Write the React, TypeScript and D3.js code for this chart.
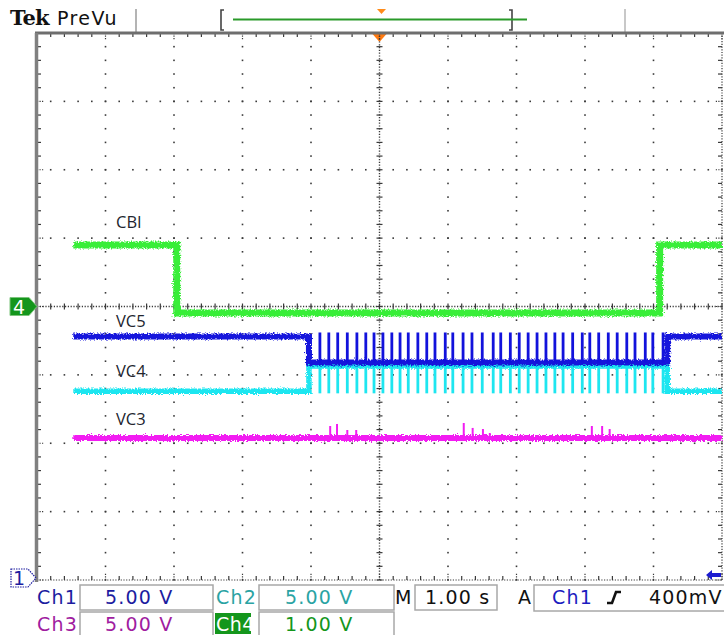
import React from 'react';
import * as d3 from 'd3';

const W = 724;
const H = 635;

// screen graticule: 10 x 8 divisions
const gridLeft = 37, gridRight = 722, gridTop = 33, gridBottom = 580;
const timeDomain = [-5, 5]; // 1.00 s/div, trigger in the centre
const divDomain = [-4, 4];

// channel settings: volts per division and ground position (div)
const ch1Scale = 5.0, ch1Ground = -4;
const ch2Scale = 5.0, ch2Ground = -4;
const ch3Scale = 5.0, ch3Ground = -4;
const ch4Scale = 1.0, ch4Ground = 0;

// CBI (Ch4)
const cbiTimes = [-4.47, -2.96, -2.96, 4.09, 4.09, 5.0];
const cbiVolts = [0.9, 0.9, -0.095, -0.095, 0.9, 0.9];
// VC5 (Ch1)
const vc5Times = [-4.47, -1.03, -1.03, 4.2, 4.2, 5.0];
const vc5Volts = [17.8, 17.8, 15.9, 15.9, 17.8, 17.8];
// VC4 (Ch2)
const vc4Times = [-4.47, -1.03, -1.03, 4.2, 4.2, 5.0];
const vc4Volts = [13.8, 13.8, 15.65, 15.65, 13.8, 13.8];
// VC3 (Ch3)
const vc3Times = [-4.47, 5.0];
const vc3Volts = [10.38, 10.38];

// balancing pulses seen on VC5 / VC4
const switchTimes = [
  -0.87, -0.74, -0.61, -0.47, -0.33, -0.2, -0.08, 0.05, 0.18, 0.3, 0.42, 0.56, 0.69,
  0.81, 0.96, 1.07, 1.22, 1.35, 1.5, 1.66, 1.77, 1.91, 2.04, 2.17, 2.3, 2.43, 2.56,
  2.68, 2.82, 2.96, 3.07, 3.2, 3.34, 3.47, 3.61, 3.73, 3.88, 3.99, 4.14,
];
const vc5SpikeVolts = [18.1];
const vc4SpikeVolts = [13.65];
// small glitches on VC3
const vc3SpikeTimes = [-0.72, -0.62, -0.47, -0.34, 1.23, 1.36, 1.51, 1.61, 3.1, 3.25, 3.36];
const vc3SpikeVolts = [11.26, 11.41, 10.97, 10.97, 11.48, 11.12, 11.04, 10.75, 11.26, 11.26, 11.04];

const traceLabels = ['CBI', 'VC5', 'VC4', 'VC3'];
const labelDivs = [1.15, -0.3, -1.03, -1.73]; // label baselines in divisions

const x = d3.scaleLinear().domain(timeDomain).range([gridLeft, gridRight]);
const y = d3.scaleLinear().domain(divDomain).range([gridBottom, gridTop]);

const minor = 0.2;
const line = d3.line<[number, number]>().x(d => x(d[0])).y(d => y(d[1]));

function tracePath(times: number[], volts: number[], scale: number, ground: number) {
  return line(times.map((t, i) => [t, ground + volts[i] / scale] as [number, number])) || '';
}

function Graticule() {
  const els: any[] = [];
  const cx = 0, cy = 0;
  const dot = (px: number, py: number, key: string, s = 1.6) =>
    <rect key={key} x={px - s / 2} y={py - s / 2} width={s} height={s} fill="#3a3a3a" />;
  // internal major lines as dotted rows
  d3.range(-4, 5, 1).forEach(t => {
    if (t === cx) return;
    d3.range(-4, 4.001, minor).forEach((v, k) => els.push(dot(x(t), y(v), `v${t}_${k}`)));
  });
  d3.range(-3, 4, 1).forEach(v => {
    if (v === cy) return;
    d3.range(-5, 5.001, minor).forEach((t, k) => els.push(dot(x(t), y(v), `h${v}_${k}`)));
  });
  // centre cross: fine dots with small ticks
  els.push(<line key="cv" x1={x(cx)} x2={x(cx)} y1={gridTop} y2={gridBottom} stroke="#3a3a3a" strokeWidth={1.4} strokeDasharray="1.2 1.6" />);
  els.push(<line key="ch" x1={gridLeft} x2={gridRight} y1={y(cy)} y2={y(cy)} stroke="#3a3a3a" strokeWidth={1.4} strokeDasharray="1.2 1.6" />);
  d3.range(-4, 4.001, minor).forEach((v, k) =>
    els.push(<line key={`cvt${k}`} x1={x(cx) - 3} x2={x(cx) + 3} y1={y(v)} y2={y(v)} stroke="#3a3a3a" strokeWidth={1.2} />));
  d3.range(-5, 5.001, minor).forEach((t, k) =>
    els.push(<line key={`cht${k}`} x1={x(t)} x2={x(t)} y1={y(cy) - 3} y2={y(cy) + 3} stroke="#3a3a3a" strokeWidth={1.2} />));
  // border rulers
  d3.range(-5, 5.001, minor).forEach((t, k) => {
    const big = Math.abs(t - Math.round(t)) < 1e-6;
    els.push(<line key={`tt${k}`} x1={x(t)} x2={x(t)} y1={gridTop} y2={gridTop + (big ? 7 : 4)} stroke="#3a3a3a" strokeWidth={1.2} strokeDasharray={big ? '1.2 1.3' : undefined} />);
    els.push(<line key={`bt${k}`} x1={x(t)} x2={x(t)} y1={gridBottom} y2={gridBottom - (big ? 7 : 4)} stroke="#3a3a3a" strokeWidth={1.2} strokeDasharray={big ? '1.2 1.3' : undefined} />);
  });
  d3.range(-4, 4.001, minor).forEach((v, k) => {
    const big = Math.abs(v - Math.round(v)) < 1e-6;
    els.push(<line key={`lt${k}`} x1={gridLeft} x2={gridLeft + (big ? 7 : 4)} y1={y(v)} y2={y(v)} stroke="#3a3a3a" strokeWidth={1.2} strokeDasharray={big ? '1.2 1.3' : undefined} />);
    els.push(<line key={`rt${k}`} x1={gridRight} x2={gridRight - (big ? 7 : 4)} y1={y(v)} y2={y(v)} stroke="#3a3a3a" strokeWidth={1.2} strokeDasharray={big ? '1.2 1.3' : undefined} />);
  });
  els.push(<line key="bb" x1={gridLeft} x2={gridRight} y1={gridBottom} y2={gridBottom} stroke="#3a3a3a" strokeWidth={1.2} strokeDasharray="1.2 1.5" />);
  els.push(<line key="rb" x1={gridRight} x2={gridRight} y1={gridTop} y2={gridBottom} stroke="#3a3a3a" strokeWidth={1.2} strokeDasharray="1.2 1.5" />);
  els.push(<line key="tb" x1={gridLeft - 2} x2={W} y1={gridTop} y2={gridTop} stroke="#6e6e6e" strokeWidth={3} />);
  els.push(<line key="lb" x1={gridLeft - 0.5} x2={gridLeft - 0.5} y1={gridTop} y2={gridBottom + 2} stroke="#808080" strokeWidth={3.5} />);
  return <g>{els}</g>;
}

const font = '"DejaVu Sans", Verdana, sans-serif';

function Readout() {
  const box = { fill: '#fff', stroke: '#a8a8a8', strokeWidth: 1.5 };
  const t = { fontFamily: font, fontSize: 19, letterSpacing: 1.2 };
  return (
    <g>
      <rect x={80} y={585} width={133} height={25} {...box} />
      <rect x={259} y={585} width={135} height={25} {...box} />
      <rect x={415} y={585} width={82} height={25} {...box} />
      <rect x={534} y={585} width={195} height={26} {...box} />
      <rect x={80} y={612} width={133} height={30} {...box} />
      <rect x={259} y={612} width={135} height={30} {...box} />
      <text x={37} y={604} fill="#1c1ca0" {...t}>Ch1</text>
      <text x={105} y={604} fill="#1c1ca0" {...t}>5.00 V</text>
      <text x={216} y={604} fill="#2aa3a3" {...t}>Ch2</text>
      <text x={285} y={604} fill="#2aa3a3" {...t}>5.00 V</text>
      <text x={395} y={604} fill="#111" {...t} letterSpacing={0}>M</text>
      <text x={425} y={604} fill="#111" {...t}>1.00 s</text>
      <text x={518} y={604} fill="#111" {...t} letterSpacing={0}>A</text>
      <text x={552} y={604} fill="#1c1cc0" {...t}>Ch1</text>
      <path d="M607,603 h5 l4,-11 h5" fill="none" stroke="#111" strokeWidth={2.6} />
      <text x={649} y={604} fill="#111" {...t}>400mV</text>
      <text x={37} y={631} fill="#a01ca0" {...t}>Ch3</text>
      <text x={105} y={631} fill="#a01ca0" {...t}>5.00 V</text>
      <rect x={215} y={613} width={36} height={21} fill="#14961c" />
      <text x={216} y={631} fill="#fff" {...t} letterSpacing={0.5}>Ch4</text>
      <text x={285} y={631} fill="#14961c" {...t}>1.00 V</text>
    </g>
  );
}

function Header() {
  return (
    <g>
      <text x={10} y={25} fontFamily='"DejaVu Serif", serif' fontWeight="bold" fontSize={21} letterSpacing={-0.8} fill="#111">Tek</text>
      <text x={57} y={25} fontFamily={font} fontSize={19} letterSpacing={1.4} fill="#111">PreVu</text>
      <line x1={136} x2={136} y1={9} y2={33} stroke="#b4b4b4" strokeWidth={2} />
      <line x1={625} x2={625} y1={9} y2={33} stroke="#c8c8c8" strokeWidth={2} />
      <path d="M224,10 h-3 v20 h3" fill="none" stroke="#444" strokeWidth={1.6} />
      <path d="M509,10 h3 v20 h-3" fill="none" stroke="#444" strokeWidth={1.6} />
      <line x1={233} x2={527} y1={19.5} y2={19.5} stroke="#2a9a2a" strokeWidth={2} />
      <path d="M377,9 h9 l-4.5,5 z" fill="#ff8c1a" />
      <path d={`M${x(0) - 7},34 h14 l-7,8 z`} fill="#ff7a10" />
    </g>
  );
}

export default function App() {
  const spikes = (peak: number, base: number, scale: number, ground: number, tms: number[], peaks?: number[]) =>
    tms.map((tm, i) => (
      <line key={i} x1={x(tm)} x2={x(tm)} y1={y(ground + base / scale)} y2={y(ground + (peaks ? peaks[i] : peak) / scale)} />
    ));
  return (
    <div style={{ position: 'fixed', left: 0, top: 0 }}>
      <svg width={W} height={H} style={{ display: 'block', background: '#fff' }}>
        <defs>
          <filter id="noise" filterUnits="userSpaceOnUse" x={0} y={0} width={W} height={H}>
            <feTurbulence type="fractalNoise" baseFrequency="0.7 0.9" numOctaves={2} seed={5} result="n" />
            <feDisplacementMap in="SourceGraphic" in2="n" scale={5} xChannelSelector="R" yChannelSelector="G" />
          </filter>
        </defs>
        <Header />
        <Graticule />
        <g fill="none">
          <g stroke="#f21cf2">
            <path d={tracePath(vc3Times, vc3Volts, ch3Scale, ch3Ground)} strokeWidth={6} filter="url(#noise)" />
            <g strokeWidth={2}>{spikes(0, vc3Volts[0], ch3Scale, ch3Ground, vc3SpikeTimes, vc3SpikeVolts)}</g>
          </g>
          <g stroke="#1ee6f0">
            <path d={tracePath(vc4Times, vc4Volts, ch2Scale, ch2Ground)} strokeWidth={5.5} filter="url(#noise)" />
            <g strokeWidth={2.8}>{spikes(vc4SpikeVolts[0], vc4Volts[2], ch2Scale, ch2Ground, switchTimes)}</g>
          </g>
          <g stroke="#1212dc">
            <path d={tracePath(vc5Times, vc5Volts, ch1Scale, ch1Ground)} strokeWidth={6} filter="url(#noise)" />
            <g strokeWidth={2.8}>{spikes(vc5SpikeVolts[0], vc5Volts[2], ch1Scale, ch1Ground, switchTimes)}</g>
          </g>
          <g stroke="#38ee38">
            <path d={tracePath(cbiTimes, cbiVolts, ch4Scale, ch4Ground)} strokeWidth={7} filter="url(#noise)" />
          </g>
        </g>
        <g fontFamily='"Open Sans", sans-serif' fontSize={16.5} fill="#22252e">
          {traceLabels.map((l, i) => (
            <text key={l} x={116} y={y(labelDivs[i])}>{l}</text>
          ))}
        </g>
        {/* Ch4 ground marker */}
        <path d={`M10,${y(0) - 9} h19 l8,9 l-8,9 h-19 z`} fill="#14961c" stroke="#7cc47c" strokeWidth={1} />
        <text x={13} y={y(0) + 7} fontFamily={font} fontSize={19} fill="#fff">4</text>
        {/* Ch1 ground marker */}
        <path d={`M11,${y(-4) - 11} h17 l8,9 l-8,9 h-17 z`} fill="#fff" stroke="#1c1ca0" strokeWidth={1.2} strokeDasharray="1.5 1" />
        <text x={13} y={y(-4) + 5} fontFamily={font} fontSize={19} fill="#1c1ca0">1</text>
        {/* trigger level */}
        <path d="M706,575 l6,-5 v3 h9 v4 h-9 v3 z" fill="#1c1cd0" />
        <Readout />
      </svg>
    </div>
  );
}
